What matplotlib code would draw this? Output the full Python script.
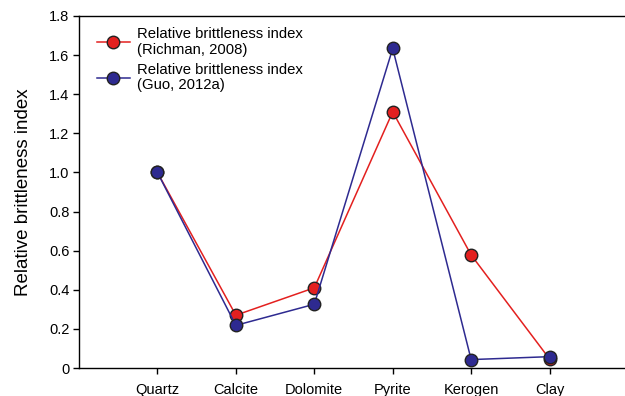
import matplotlib.pyplot as plt

plt.rcParams["font.family"] = ["Liberation Sans", "DejaVu Sans"]

minerals = ["Quartz", "Calcite", "Dolomite", "Pyrite", "Kerogen", "Clay"]
richman = [1.0, 0.27, 0.41, 1.31, 0.578, 0.046]
guo = [1.0, 0.218, 0.326, 1.634, 0.043, 0.058]
y_ticks = [0, 0.2, 0.4, 0.6, 0.8, 1.0, 1.2, 1.4, 1.6, 1.8]
y_tick_labels = ["0", "0.2", "0.4", "0.6", "0.8", "1.0", "1.2", "1.4", "1.6", "1.8"]

fig = plt.figure(figsize=(6.25, 3.96), dpi=100)
ax = fig.add_axes([79 / 625, 1 - 368 / 396, 549 / 625, 352 / 396])

x = list(range(1, len(minerals) + 1))
ax.plot(x, richman, color="#e3201f", lw=1.1, marker="o", ms=9,
        mfc="#e3201f", mec="#222222", mew=1.0,
        label="Relative brittleness index\n(Richman, 2008)")
ax.plot(x, guo, color="#2e2a90", lw=1.1, marker="o", ms=9,
        mfc="#2e2a90", mec="#222222", mew=1.0,
        label="Relative brittleness index\n(Guo, 2012a)")

ax.set_xlim(0, 7)
ax.set_ylim(0, 1.8)
ax.set_xticks(x)
ax.set_xticklabels(minerals, fontsize=10.5)
ax.set_yticks(y_ticks)
ax.set_yticklabels(y_tick_labels, fontsize=10.5)
ax.tick_params(direction="out", length=4, width=1, pad=7)
ax.tick_params(axis="y", pad=3)
ax.set_ylabel("Relative brittleness index", fontsize=13.5, labelpad=12)

ax.spines["right"].set_visible(False)
for s in ["top", "left", "bottom"]:
    ax.spines[s].set_linewidth(1.0)

leg = ax.legend(loc="upper left", frameon=False, fontsize=10.7, handlelength=2.2,
                handletextpad=0.5, labelspacing=0.4, borderaxespad=0.0,
                borderpad=0.0, bbox_to_anchor=(18 / 549, 1 - 11 / 352))
for t in leg.get_texts():
    t.set_linespacing(1.15)

fig.savefig("out.png", dpi=100)
